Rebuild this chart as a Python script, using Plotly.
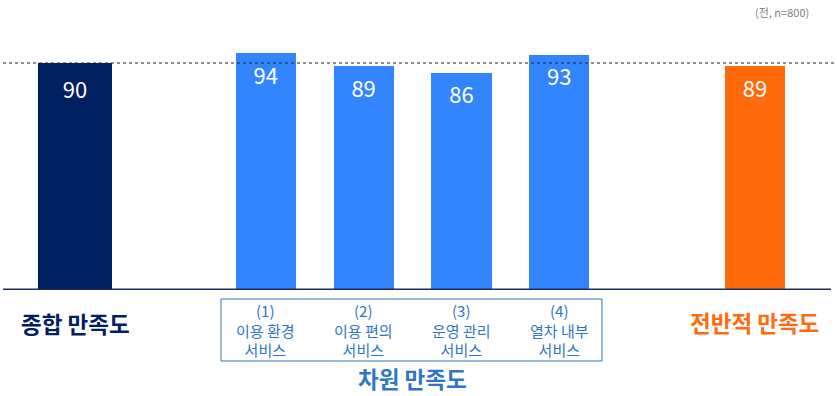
import plotly.graph_objects as go

# ---- data ----
categories = ["종합 만족도", "(1)<br>이용 환경<br>서비스", "(2)<br>이용 편의<br>서비스",
              "(3)<br>운영 관리<br>서비스", "(4)<br>열차 내부<br>서비스", "전반적 만족도"]
values = [90, 94, 89, 86, 93, 89]
reference_value = 90
note = "(전, n=800)"
group_label = "차원 만족도"

# ---- layout / style ----
positions = [0, 1.95, 2.95, 3.95, 4.95, 6.95]
widths = [0.76, 0.615, 0.615, 0.615, 0.615, 0.615]
NAVY = "#002060"
BLUE = "#3385FF"
ORANGE = "#FF6A0D"
LBLUE = "#2E75C6"
colors = [NAVY, BLUE, BLUE, BLUE, BLUE, ORANGE]
text_offsets = [11.5, 10.3, 10.3, 9.7, 9.7, 10.3]
FONT = "Noto Sans CJK KR"

W, H = 837, 396
ML, MR, MT, MB = 0, 0, 13, 106
px_per_unit = 97.84
x0 = -75 / px_per_unit
x1 = x0 + W / px_per_unit
plot_h = H - MT - MB
y_top = plot_h / (227 / 90)

fig = go.Figure()
fig.add_trace(go.Bar(
    x=positions, y=values, width=widths,
    marker=dict(color=colors, line=dict(width=0)),
    hoverinfo="skip", showlegend=False,
))
fig.add_trace(go.Scatter(
    x=positions, y=[v - o for v, o in zip(values, text_offsets)],
    mode="text", text=[str(v) for v in values],
    textfont=dict(family=FONT, size=22, color="white"),
    hoverinfo="skip", showlegend=False,
))

def ypix(p):
    return (H - MB - p) / plot_h

def ann(x, y, text, size, color, xref="x"):
    return dict(x=x, y=y, xref=xref, yref="paper", text=text, showarrow=False,
                xanchor="center", yanchor="middle",
                font=dict(family=FONT, size=size, color=color))

annotations = [
    ann(positions[0], ypix(323), "<b>" + categories[0] + "</b>", 22.5, NAVY),
    ann(positions[5], ypix(322), "<b>" + categories[5] + "</b>", 22.5, ORANGE),
]
for i in range(1, 5):
    annotations.append(ann(positions[i], ypix(330), categories[i], 15, LBLUE))
annotations.append(ann((positions[1] + positions[4]) / 2, ypix(378),
                       "<b>" + group_label + "</b>", 22.5, LBLUE))
annotations.append(ann(782 / W, ypix(12), note, 11, "#7F7F7F", xref="paper"))

shapes = [
    dict(type="line", xref="paper", yref="y", x0=3 / W, x1=835 / W,
         y0=reference_value, y1=reference_value,
         line=dict(color="#222222", width=1, dash="dot")),
    dict(type="line", xref="paper", yref="y", x0=3 / W, x1=831 / W, y0=0, y1=0,
         line=dict(color="#1F2D5A", width=3)),
    dict(type="rect", xref="x", yref="paper",
         x0=positions[1] - 0.458, x1=positions[4] + 0.436,
         y0=ypix(361), y1=ypix(299),
         line=dict(color="#2E75B6", width=1)),
]

fig.update_layout(
    width=W, height=H,
    margin=dict(l=ML, r=MR, t=MT, b=MB),
    paper_bgcolor="white", plot_bgcolor="white",
    xaxis=dict(visible=False, range=[x0, x1], fixedrange=True),
    yaxis=dict(visible=False, range=[0, y_top], fixedrange=True),
    annotations=annotations, shapes=shapes,
    bargap=0, showlegend=False,
)
fig.write_html("out.html", config={"displayModeBar": False},
               post_script="document.body.style.margin='0';document.body.style.overflow='hidden';")
